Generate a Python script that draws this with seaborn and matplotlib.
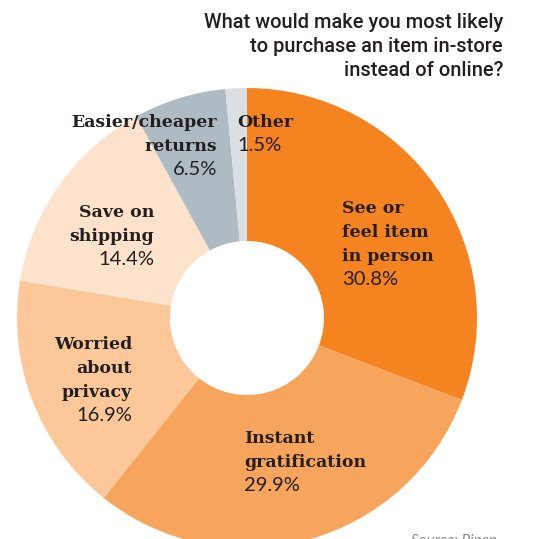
import matplotlib
matplotlib.use("Agg")
import matplotlib.pyplot as plt
import seaborn as sns

# ---- data ----
categories = ["See or feel item in person", "Instant gratification", "Worried about privacy",
              "Save on shipping", "Easier/cheaper returns", "Other"]
values = [30.8, 29.9, 16.9, 14.4, 6.5, 1.5]
label_lines = [["See or", "feel item", "in person"],
               ["Instant", "gratification"],
               ["Worried", "about", "privacy"],
               ["Save on", "shipping"],
               ["Easier/cheaper", "returns"],
               ["Other"]]
pct_labels = ["30.8%", "29.9%", "16.9%", "14.4%", "6.5%", "1.5%"]
title_lines = ["What would make you most likely", "to purchase an item in-store", "instead of online?"]
source_text = "Source: Pipen"
colors = ["#F58320", "#F7A55D", "#FCC899", "#FEE3CC", "#AFBBC3", "#D9DFE3"]

sns.set_theme(style="white")
palette = sns.color_palette(colors)

W, H = 542, 539
fig = plt.figure(figsize=(W / 100, H / 100), dpi=100)
ax = fig.add_axes([0, 0, 1, 1])

cx, cy_px, R, r_hole = 247, 318, 230, 77
cy = H - cy_px

ax.pie(values, colors=palette, startangle=90, counterclock=False,
       center=(cx, cy), radius=R,
       wedgeprops=dict(width=R - r_hole, linewidth=0, antialiased=True))
ax.set_xlim(0, W)
ax.set_ylim(0, H)
ax.set_aspect("equal")
ax.axis("off")

txt_color = "#231F20"
# label placement: (anchor x px, first baseline y px, ha)
placements = [(342, 213, "left"),
              (244, 443, "left"),
              (132, 349, "right"),
              (154, 217, "right"),
              (217, 127, "right"),
              (237, 127, "left")]
step = 24
for lines, pct, (x, y0, ha) in zip(label_lines, pct_labels, placements):
    for i, ln in enumerate(lines):
        ax.text(x, H - (y0 + i * step), ln, ha=ha, va="baseline",
                fontsize=12.5, fontweight="bold", family=["DejaVu Serif"],
                color=txt_color)
    ax.text(x, H - (y0 + len(lines) * step), pct, ha=ha, va="baseline",
            fontsize=14.5, fontweight="normal", family=["Lato", "DejaVu Sans"],
            color=txt_color)

for i, ln in enumerate(title_lines):
    ax.text(503, H - (28 + i * 24), ln, ha="right", va="baseline",
            fontsize=14.4, fontweight="medium", family=["Roboto", "DejaVu Sans"],
            color=txt_color)

ax.text(411, H - 545, source_text, ha="left", va="baseline", fontsize=11,
        style="italic", family=["Lato", "DejaVu Sans"], color="#8A8A8A")

fig.savefig("out.png", dpi=100)
